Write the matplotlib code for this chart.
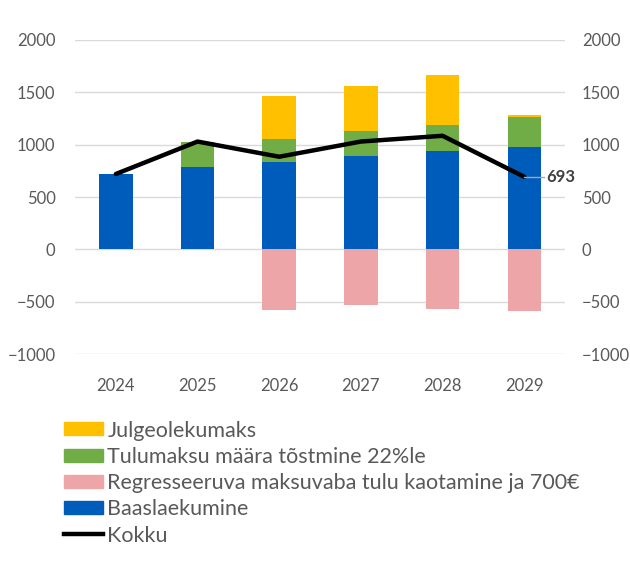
import numpy as np
import matplotlib.pyplot as plt
from matplotlib.patches import Patch
from matplotlib.lines import Line2D

years = ['2024', '2025', '2026', '2027', '2028', '2029']
baas = [720, 790, 830, 890, 935, 980]
tulumaks = [0, 240, 225, 240, 255, 285]
julgeolek = [0, 0, 410, 435, 475, 20]
regress = [0, 0, -580, -535, -565, -585]
kokku = [720, 1030, 885, 1030, 1085, 693]

c_julg = '#FFC000'
c_tulu = '#70AD47'
c_regr = '#EDA5A8'
c_baas = '#005CBB'
txt = '#595959'

plt.rcParams['font.family'] = ['Lato', 'DejaVu Sans']

fig = plt.figure(figsize=(6.3, 5.63), dpi=100)
ax = fig.add_axes([0.119, 0.371, 0.778, 0.558])

x = np.arange(len(years))
w = 0.41
ax.bar(x, baas, w, color=c_baas, zorder=2)
ax.bar(x, tulumaks, w, bottom=baas, color=c_tulu, zorder=2)
bot2 = np.array(baas) + np.array(tulumaks)
ax.bar(x, julgeolek, w, bottom=bot2, color=c_julg, zorder=2)
ax.bar(x, regress, w, color=c_regr, zorder=2)
ax.plot(x, kokku, color='black', lw=3.2, zorder=3, solid_capstyle='round')

# label for last point
ax.plot([x[-1], x[-1] + 0.24], [kokku[-1], kokku[-1]], color='#A6A6A6', lw=1, zorder=4)
ax.text(x[-1] + 0.27, kokku[-1], str(kokku[-1]), fontsize=12, fontweight='bold',
        color='#404040', va='center', ha='left', zorder=5)

ax.set_xlim(-0.5, len(years) - 0.5)
ax.set_ylim(-1000, 2000)
ax.set_yticks(range(-1000, 2001, 500))
ax.set_xticks(x)
ax.set_xticklabels(years)
ax.grid(axis='y', color='#D9D9D9', lw=1, zorder=0)
ax.set_axisbelow(True)
for s in ax.spines.values():
    s.set_visible(False)
ax.tick_params(length=0, labelsize=12, colors=txt)
ax.tick_params(axis='x', pad=17)
ax.tick_params(axis='y', pad=14)

ax2 = ax.twinx()
ax2.set_ylim(ax.get_ylim())
ax2.set_yticks(range(-1000, 2001, 500))
for s in ax2.spines.values():
    s.set_visible(False)
ax2.tick_params(length=0, labelsize=12, colors=txt, pad=12)

handles = [
    Patch(color=c_julg, label='Julgeolekumaks'),
    Patch(color=c_tulu, label='Tulumaksu määra tõstmine 22%le'),
    Patch(color=c_regr, label='Regresseeruva maksuvaba tulu kaotamine ja 700€'),
    Patch(color=c_baas, label='Baaslaekumine'),
    Line2D([], [], color='black', lw=3.2, label='Kokku'),
]
fig.legend(handles=handles, loc='upper left', bbox_to_anchor=(0.102, 0.253),
           frameon=False, fontsize=15.5, labelcolor=txt, handlelength=1.8,
           handleheight=0.55, handletextpad=0.2, labelspacing=0.29,
           borderaxespad=0, borderpad=0)

fig.savefig('out.png', dpi=100)
